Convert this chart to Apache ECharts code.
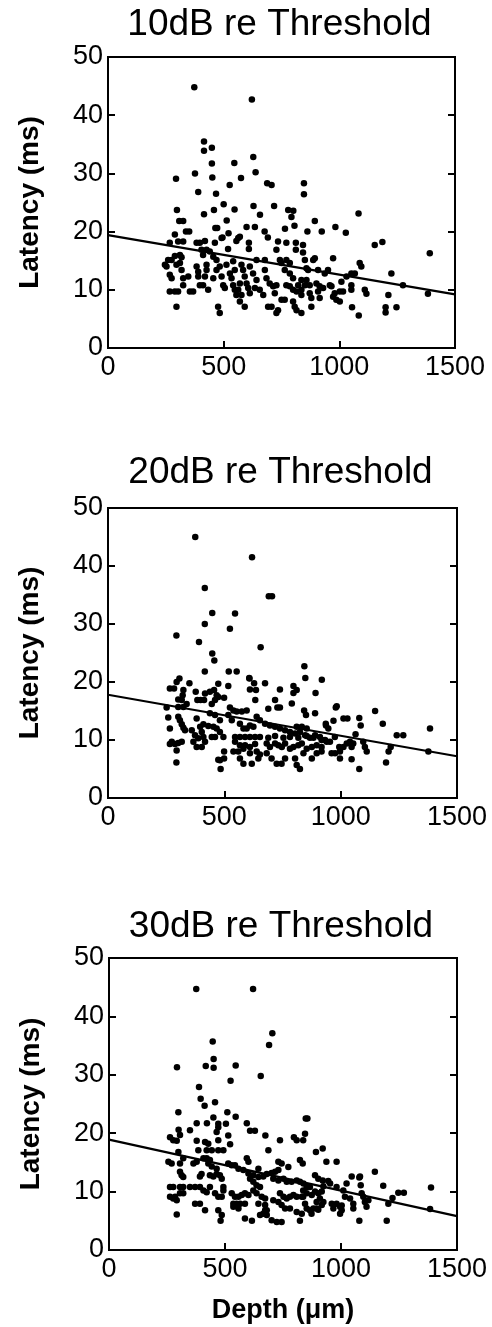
<!DOCTYPE html>
<html>
<head>
<meta charset="utf-8">
<script src="https://cdn.jsdelivr.net/npm/echarts@6/dist/echarts.min.js"></script>
<style>
  html, body { margin: 0; padding: 0; background: #fff; }
  #chart { width: 492px; height: 1327px; }
</style>
</head>
<body>
<div id="chart"></div>
<script>
// panel titles
const titles = ["10dB re Threshold", "20dB re Threshold", "30dB re Threshold"];

// [depth (um), latency (ms)]
const pts10 = [
  [373,44.8],[622,42.7],[415,35.5],[415,33.9],[449,34.4],[449,31.7],[546,31.8],[628,32.8],[638,30.2],[294,29.1],
  [376,30.0],[451,29.3],[575,29.2],[526,28.0],[688,28.3],[707,28.0],[847,28.3],[847,26.4],[390,26.8],[467,26.5],
  [298,23.7],[415,23.0],[458,23.7],[500,24.7],[547,23.8],[629,24.4],[657,22.9],[718,24.4],[779,23.7],[801,23.6],
  [793,22.5],[513,21.9],[308,21.8],[325,21.8],[894,21.8],[1083,23.1],[983,20.8],[924,20.0],[1028,19.8],[1153,17.7],
  [1186,18.2],[806,21.0],[862,20.0],[765,20.5],[599,20.8],[635,20.8],[677,20.0],[691,19.0],[337,20.0],[351,20.0],
  [464,20.6],[472,20.6],
  [289,19.5],[521,19.7],[563,18.9],[570,19.1],[495,19.0],[609,18.1],[609,17.0],[735,18.3],[728,16.9],[771,18.1],
  [812,18.1],[812,16.9],[843,17.7],[843,16.4],[383,18.1],[397,18.1],[419,18.4],[267,18.1],[325,18.3],[303,18.3],
  [462,18.1],[491,18.9],[519,17.0],[555,18.4],[404,16.9],[426,16.9],[440,16.6],[411,16.0],[455,15.7],[469,15.1],
  [289,15.8],[311,16.0],[318,15.6],[275,15.1],[260,15.1],[253,14.0],[246,14.3],[296,14.3],[311,14.6],[318,13.4],
  [267,12.6],[275,12.0],[325,12.0],[347,12.3],[383,14.0],[390,12.3],[390,13.1],[426,14.3],[426,13.4],[419,12.3],
  [455,12.0],[469,13.4],[483,14.0],[491,12.3],[512,14.3],[541,14.9],[548,13.4],[527,12.8],[534,12.0],[541,10.8],
  [548,10.0],[555,9.1],[577,14.3],[584,13.4],[591,12.3],[599,11.1],[606,10.3],[613,9.4],[570,11.1],[563,10.0],
  [577,9.1],[613,14.0],[627,12.8],[642,11.7],[642,15.1],[678,15.1],[635,10.3],[656,10.0],[671,9.1],[678,13.4],
  [685,12.0],[699,11.1],[714,10.6],[721,9.4],[728,10.8],[692,7.1],[707,7.1],[735,6.5],[728,6.0],[743,15.1],
  [750,14.6],[764,13.4],[786,12.8],[800,12.0],[822,10.8],[771,15.1],[786,14.6],[771,10.8],[786,10.6],[800,10.0],
  [815,9.7],[750,8.3],[764,8.3],[800,8.0],[807,7.1],[815,6.5],[836,6.0],[836,11.7],[858,11.7],[872,10.8],
  [858,13.7],[865,13.4],[887,15.1],[894,15.4],[901,11.1],[915,10.6],[930,10.3],[908,13.4],[951,13.4],[973,15.4],
  [879,8.6],[879,7.1],[872,9.4],[980,9.4],[973,8.8],[1002,9.7],[1016,9.7],[289,9.7],[267,9.7],[303,9.7],
  [354,9.7],[368,9.7],[433,10.0],[296,7.1],[476,7.1],[483,6.0],[570,8.0],[591,7.1],[397,10.8],[411,10.8],
  [325,10.8],[498,10.8],[505,10.3],
  [1391,16.3],[851,15.1],[1088,14.6],[1095,14.0],[1225,12.8],[1275,10.8],[1383,9.3],[1212,9.1],[1247,7.0],[1200,7.0],
  [1200,6.1],[1084,5.6],[1055,7.0],[1110,10.0],[1117,9.3],[1052,10.8],[1052,10.0],[1009,11.4],[1031,12.3],[1052,12.8],
  [1067,12.8],[937,12.8],[987,8.3],[1002,8.0],[908,9.7],[915,8.6],[959,10.8],[966,10.6],[836,10.0],[836,9.1],
  [851,10.8]
];

const pts20 = [
  [375,45.0],[619,41.5],[416,36.2],[448,31.9],[546,31.8],[416,30.0],[524,29.2],[294,28.0],[391,26.9],[691,34.8],
  [705,34.8],[656,26.0],[448,24.9],[457,23.7],[416,21.8],[519,21.8],[553,21.8],[607,20.7],[844,22.7],[848,20.7],
  [919,20.4],[892,18.1],[983,15.8],[1148,15.0],[1181,12.8],[1241,10.8],[1269,10.8],[1384,12.0],[1195,6.1],[1080,5.0],
  [484,5.0],[825,5.0],[294,6.1],
  [307,20.6],[295,20.0],[350,19.8],[266,18.9],[284,18.9],[324,18.6],[321,17.7],[377,18.3],[417,18.0],[438,18.3],
  [456,18.6],[467,17.7],[474,19.7],[517,19.3],[499,17.3],[608,20.6],[628,19.8],[636,18.6],[610,18.7],[675,19.8],
  [739,18.7],[797,19.3],[811,18.6],[797,18.1],[633,16.9],[718,16.9],[728,15.6],[739,15.6],[689,15.4],[790,16.3],
  [843,15.1],[851,14.3],[890,14.6],[979,15.6],[1012,13.7],[1029,13.7],[969,13.3],[302,17.0],[317,16.9],[302,15.7],
  [324,15.7],[338,16.2],[384,16.9],[398,16.9],[413,16.9],[446,16.2],[460,16.9],[474,17.4],[252,15.6],[259,13.9],
  [266,12.0],[302,14.0],[309,13.4],[317,12.7],[324,12.1],[331,11.7],[381,13.7],[396,12.3],[403,11.4],[410,10.5],
  [360,11.7],[374,10.8],[388,10.3],[410,12.7],[431,12.4],[453,12.3],[467,12.0],[481,11.4],[496,10.5],[438,14.6],
  [460,14.3],[481,13.4],[524,15.6],[539,15.1],[553,14.9],[575,14.9],[596,15.1],[517,14.3],[532,13.4],[567,12.8],
  [582,12.0],[596,12.0],[610,12.5],[625,12.3],[639,14.0],[653,13.4],[675,12.8],[696,12.5],[718,12.3],[739,12.0],
  [761,11.7],[782,11.4],[804,11.1],[811,12.3],[825,11.4],[847,10.8],[868,10.4],[890,10.8],[911,10.5],[933,10.0],
  [954,9.7],[937,12.5],[947,12.0],[994,8.8],[1012,8.8],[266,9.3],[274,9.7],[288,9.3],[302,9.5],[317,9.7],
  [295,8.2],[367,9.7],[381,8.8],[403,8.8],[417,9.7],[446,10.5],[460,10.5],[481,6.5],[499,8.0],[499,6.8],
  [474,6.6],[546,10.5],[567,10.5],[589,10.5],[610,10.5],[632,10.5],[653,10.5],[546,9.7],[567,9.1],[589,9.1],
  [610,8.8],[632,9.3],[539,8.0],[560,8.0],[582,8.5],[610,7.7],[639,8.0],[567,6.8],[582,5.9],[618,5.9],
  [646,6.8],[653,7.5],[682,9.4],[696,8.8],[718,9.4],[732,9.1],[747,8.8],[761,9.4],[782,8.5],[797,8.8],
  [818,9.1],[833,9.4],[854,8.5],[876,8.8],[897,9.1],[918,8.8],[682,7.7],[703,6.8],[725,5.9],[746,5.9],
  [761,6.8],[804,6.8],[811,5.7],[689,10.4],[718,10.7],[754,10.4],[782,10.5],[818,10.4],[854,10.7],[883,10.4],
  [918,10.0],[840,7.7],[876,6.8],[897,7.7],[918,8.0],[961,7.7],[976,7.7],[997,6.8],[997,8.0],[833,12.3],
  [854,12.0],[936,12.8],
  [1080,13.8],[1086,12.5],[1064,11.0],[1206,8.0],[1215,8.8],[1377,8.0],[1047,6.7],[1026,9.4],[1040,9.7],[1054,9.4],
  [1047,8.8],[1104,8.8],[1112,8.0],[1097,9.7],[940,9.7],[975,10.5]
];

const pts30 = [
  [376,44.7],[621,44.7],[704,37.1],[690,35.1],[447,35.7],[451,32.7],[451,31.2],[417,31.5],[293,31.3],[546,31.6],
  [524,29.0],[654,29.8],[388,27.9],[395,25.9],[412,24.7],[457,25.3],[299,23.6],[510,23.6],[546,22.8],[450,22.7],
  [848,22.5],[855,22.5],[378,21.7],[422,21.7],[471,21.6],[471,21.0],[504,21.6],[594,21.7],[629,20.4],[608,20.4],
  [674,19.6],[300,20.6],[306,19.7],[263,19.3],[277,18.8],[845,19.9],[837,18.8],[797,19.3],[921,17.4],[892,16.8],
  [937,15.1],[981,15.1],[1082,12.6],[1146,13.4],[1182,11.0],[1247,9.8],[1271,9.8],[1388,10.7],[1384,7.0],[1197,5.0],
  [1079,5.0],[481,5.0],[823,5.0],[292,6.1],[616,5.0],
  [737,18.8],[809,18.8],[349,20.5],[292,18.7],[378,18.7],[414,18.5],[428,18.2],[464,20.2],[471,18.8],[522,18.1],
  [514,19.6],[385,17.1],[421,17.1],[443,17.1],[471,17.1],[493,17.1],[299,16.8],[320,15.7],[407,15.7],[421,15.7],
  [435,15.4],[256,15.1],[270,14.8],[306,14.8],[364,14.8],[378,15.1],[514,14.8],[594,15.7],[601,15.1],[644,13.9],
  [687,17.1],[730,15.1],[744,14.8],[773,14.2],[823,15.4],[835,14.8],
  [306,13.4],[313,12.8],[320,12.5],[392,12.6],[399,13.0],[435,12.8],[450,12.6],[464,13.0],[478,12.8],[486,12.2],
  [428,14.8],[443,14.3],[464,13.9],[529,14.5],[543,14.5],[558,13.9],[579,13.7],[601,13.1],[622,12.8],[644,12.5],
  [665,12.6],[680,13.0],[701,13.2],[716,13.4],[730,13.7],[708,12.2],[730,11.9],[752,12.2],[766,11.7],[787,11.7],
  [809,11.9],[823,11.7],[838,11.4],[852,10.8],[866,10.8],[608,12.2],[622,11.7],[636,11.1],[651,10.8],[263,10.8],
  [277,10.8],[306,10.8],[320,10.8],[349,10.8],[371,10.8],[392,10.8],[407,10.2],[421,9.9],[435,10.8],[493,10.8],
  [493,10.2],[263,9.1],[285,9.1],[306,9.7],[320,9.7],[277,8.8],[292,8.5],[457,9.7],[471,9.1],[486,9.1],
  [529,9.7],[543,9.1],[558,9.1],[572,9.4],[586,9.7],[601,9.4],[536,7.9],[550,7.9],[565,7.9],[586,7.9],
  [536,7.4],[558,7.1],[622,10.2],[636,9.7],[658,9.1],[673,8.8],[644,7.9],[673,7.7],[680,6.8],[665,6.2],
  [680,6.0],[701,5.1],[708,8.5],[730,8.2],[744,7.7],[759,7.1],[780,7.1],[809,6.5],[831,6.2],[723,4.8],
  [744,4.8],[737,9.7],[752,9.1],[766,8.8],[780,9.1],[795,9.4],[809,9.1],[831,9.1],[852,9.7],[874,9.4],
  [888,10.0],[902,9.7],[917,10.0],[866,6.8],[881,7.1],[895,7.1],[917,7.7],[924,8.2],[960,7.9],[981,7.9],
  [996,7.4],[1003,6.8],[996,6.2],[924,10.9],[953,11.4],[981,10.8],[1010,10.2],[888,12.8],[902,12.2],[392,7.9],
  [371,7.9],[414,6.8],[471,6.8],[486,6.0],[586,5.4],[651,6.0],[673,6.8],
  [921,11.9],[945,11.8],[1024,11.4],[1046,12.6],[1079,12.4],[1085,11.1],[1222,8.9],[1204,7.9],[837,10.2],[837,9.1],
  [845,7.9],[895,8.2],[909,8.8],[852,7.1],[873,6.2],[902,6.9],[967,7.1],[1003,7.6],[1017,9.1],[1039,8.8],
  [1053,7.9],[1053,7.1],[1096,9.1],[1089,9.7],[1103,8.2],[1110,7.4],[1118,8.5]
];

// fitted regression lines (end points read at depth 0 and 1500)
const fit10 = [[0, 19.4], [1500, 9.2]];
const fit20 = [[0, 17.8], [1500, 7.2]];
const fit30 = [[0, 18.9], [1500, 5.8]];

const depthTicks = { min: 0, max: 1500, interval: 500 };
const latencyTicks = { min: 0, max: 50, interval: 10 };

const panels = [
  { pts: pts10, fit: fit10, left: 108, top: 57, width: 347, height: 291, titleTop: 6 },
  { pts: pts20, fit: fit20, left: 108, top: 508, width: 349, height: 290, titleTop: 454 },
  { pts: pts30, fit: fit30, left: 109, top: 958, width: 348, height: 292, titleTop: 908 },
];

const FONT = "Liberation Sans, Arial, Helvetica, sans-serif";

const option = {
  animation: false,
  backgroundColor: "#fff",
  title: [],
  grid: [],
  xAxis: [],
  yAxis: [],
  series: [],
};

panels.forEach((p, i) => {
  option.title.push({
    text: titles[i],
    left: p.left + p.width / 2 - 2,
    top: p.titleTop,
    textAlign: "center",
    padding: 0,
    textStyle: { fontFamily: FONT, fontSize: 37, fontWeight: "normal", color: "#000" },
  });
  option.grid.push({
    left: p.left,
    top: p.top,
    width: p.width,
    height: p.height,
    show: true,
    borderColor: "#000",
    borderWidth: 2,
    backgroundColor: "transparent",
  });
  option.xAxis.push({
    type: "value",
    gridIndex: i,
    min: depthTicks.min,
    max: depthTicks.max,
    interval: depthTicks.interval,
    axisLine: { lineStyle: { color: "#000", width: 2 } },
    axisTick: { inside: true, length: 7, lineStyle: { color: "#000", width: 2 } },
    axisLabel: { fontFamily: FONT, fontSize: 27, color: "#000", margin: 6, formatter: (v) => String(v) },
    splitLine: { show: false },
    name: i === 2 ? "Depth (\u03bcm)" : "",
    nameLocation: "middle",
    nameGap: 47,
    nameTextStyle: { fontFamily: FONT, fontSize: 27, fontWeight: "bold", color: "#000" },
  });
  option.yAxis.push({
    type: "value",
    gridIndex: i,
    min: latencyTicks.min,
    max: latencyTicks.max,
    interval: latencyTicks.interval,
    axisLine: { show: true, lineStyle: { color: "#000", width: 2 } },
    axisTick: { inside: true, length: 7, lineStyle: { color: "#000", width: 2 } },
    axisLabel: { fontFamily: FONT, fontSize: 27, color: "#000", margin: 5 },
    splitLine: { show: false },
    name: "Latency (ms)",
    nameLocation: "middle",
    nameGap: 64,
    nameTextStyle: { fontFamily: FONT, fontSize: 28, fontWeight: "bold", color: "#000" },
  });
  // right-hand axis only for the inside ticks
  option.yAxis.push({
    type: "value",
    gridIndex: i,
    position: "right",
    min: latencyTicks.min,
    max: latencyTicks.max,
    interval: latencyTicks.interval,
    axisLine: { show: true, lineStyle: { color: "#000", width: 2 } },
    axisTick: { inside: true, length: 7, lineStyle: { color: "#000", width: 2 } },
    axisLabel: { show: false },
    splitLine: { show: false },
  });
  option.series.push({
    type: "scatter",
    xAxisIndex: i,
    yAxisIndex: i * 2,
    data: p.pts,
    symbolSize: 6.5,
    itemStyle: { color: "#000", opacity: 1 },
  });
  option.series.push({
    type: "line",
    xAxisIndex: i,
    yAxisIndex: i * 2,
    data: p.fit,
    symbol: "none",
    lineStyle: { color: "#000", width: 2.2 },
  });
});

const chart = echarts.init(document.getElementById("chart"), null, { renderer: "canvas" });
chart.setOption(option);
</script>
</body>
</html>
